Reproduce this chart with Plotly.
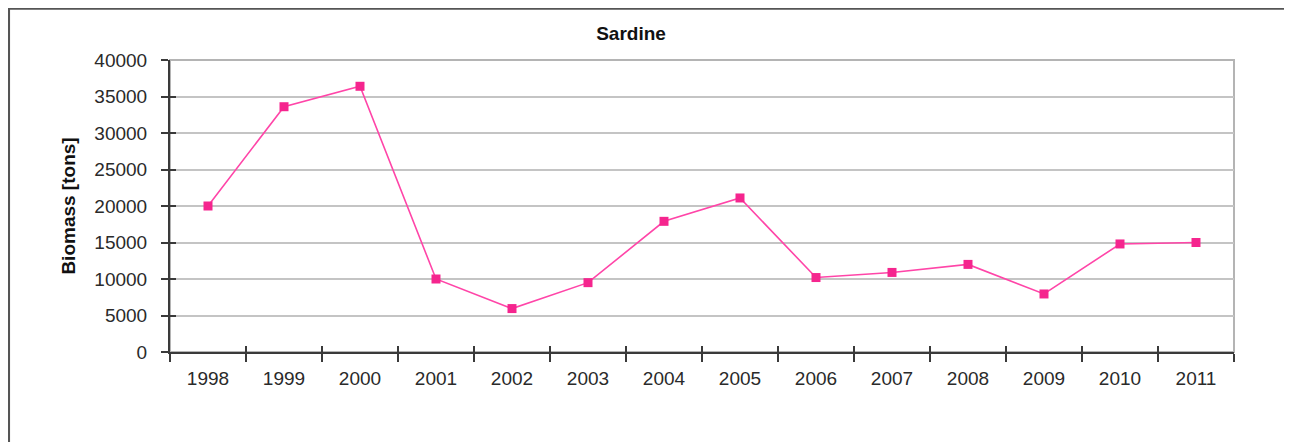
import plotly.graph_objects as go

years = ["1998", "1999", "2000", "2001", "2002", "2003", "2004",
         "2005", "2006", "2007", "2008", "2009", "2010", "2011"]
biomass = [20000, 33600, 36400, 10000, 5950, 9500, 17900,
           21100, 10200, 10900, 12000, 7950, 14800, 15000]
y_ticks = [0, 5000, 10000, 15000, 20000, 25000, 30000, 35000, 40000]

FONT = "Liberation Sans, Arial, sans-serif"
AXIS_DARK = "#3a3a3a"

W, H = 1284, 434
L, R, T, B = 162, 58, 52, 90

fig = go.Figure()

fig.add_trace(go.Scatter(
    x=years, y=biomass, mode="lines+markers",
    line=dict(color="#FF45A8", width=1.6),
    marker=dict(symbol="square", size=9, color="#F5258E"),
    hoverinfo="x+y", showlegend=False,
))
# invisible helper trace to drive the inside-tick overlay axes
fig.add_trace(go.Scatter(
    x=years, y=biomass, mode="lines", line=dict(width=0),
    opacity=0, hoverinfo="skip", showlegend=False,
    xaxis="x2", yaxis="y2",
))

fig.update_layout(
    width=W, height=H,
    margin=dict(l=L, r=R, t=T, b=B),
    paper_bgcolor="white", plot_bgcolor="white",
    font=dict(family=FONT, size=18, color="#222222"),
    title=dict(text="<b>Sardine</b>", x=623 / W, xanchor="center",
               y=1 - 25 / H, yanchor="middle",
               font=dict(family=FONT, size=19, color="#111111")),
    xaxis=dict(
        type="category", categoryorder="array", categoryarray=years,
        range=[-0.5, 13.5], tickson="boundaries",
        ticks="outside", ticklen=8, tickwidth=2, tickcolor=AXIS_DARK,
        showline=True, linecolor=AXIS_DARK, linewidth=2,
        showgrid=False, zeroline=False,
        tickfont=dict(family=FONT, size=19, color="#2a2a2a"),
        ticklabelstandoff=8,
    ),
    xaxis2=dict(
        overlaying="x", matches="x", type="category",
        categoryorder="array", categoryarray=years,
        tickson="boundaries", ticks="inside", ticklen=6, tickwidth=2,
        tickcolor=AXIS_DARK, showticklabels=False, showline=False,
        showgrid=False, zeroline=False,
    ),
    yaxis=dict(
        range=[0, 40000], tickmode="array", tickvals=y_ticks,
        ticktext=[str(v) for v in y_ticks],
        ticks="outside", ticklen=7, tickwidth=2, tickcolor=AXIS_DARK,
        showline=True, linecolor=AXIS_DARK, linewidth=2,
        showgrid=True, gridcolor="#C4C4C4", gridwidth=2,
        zeroline=False,
        tickfont=dict(family=FONT, size=19, color="#2a2a2a"),
        ticklabelstandoff=10,
        title=dict(text="<b>Biomass [tons]</b>", standoff=14,
                   font=dict(family=FONT, size=19, color="#111111")),
    ),
    yaxis2=dict(
        overlaying="y", side="left", range=[0, 40000],
        tickmode="array", tickvals=y_ticks,
        ticks="inside", ticklen=6, tickwidth=2, tickcolor=AXIS_DARK,
        showticklabels=False, showline=False, showgrid=False,
        zeroline=False,
    ),
    shapes=[
        # light plot-area frame (top and right edges)
        dict(type="rect", xref="paper", yref="paper", x0=0, x1=1, y0=0, y1=1,
             line=dict(color="#B4B4B4", width=2), layer="below"),
        # outer chart frame
        dict(type="rect", xref="paper", yref="paper",
             x0=-0.1515, x1=1.0517, y0=-0.35, y1=1.1764,
             line=dict(color="#555555", width=2.5), layer="below"),
    ],
)

fig.write_html("out.html")
